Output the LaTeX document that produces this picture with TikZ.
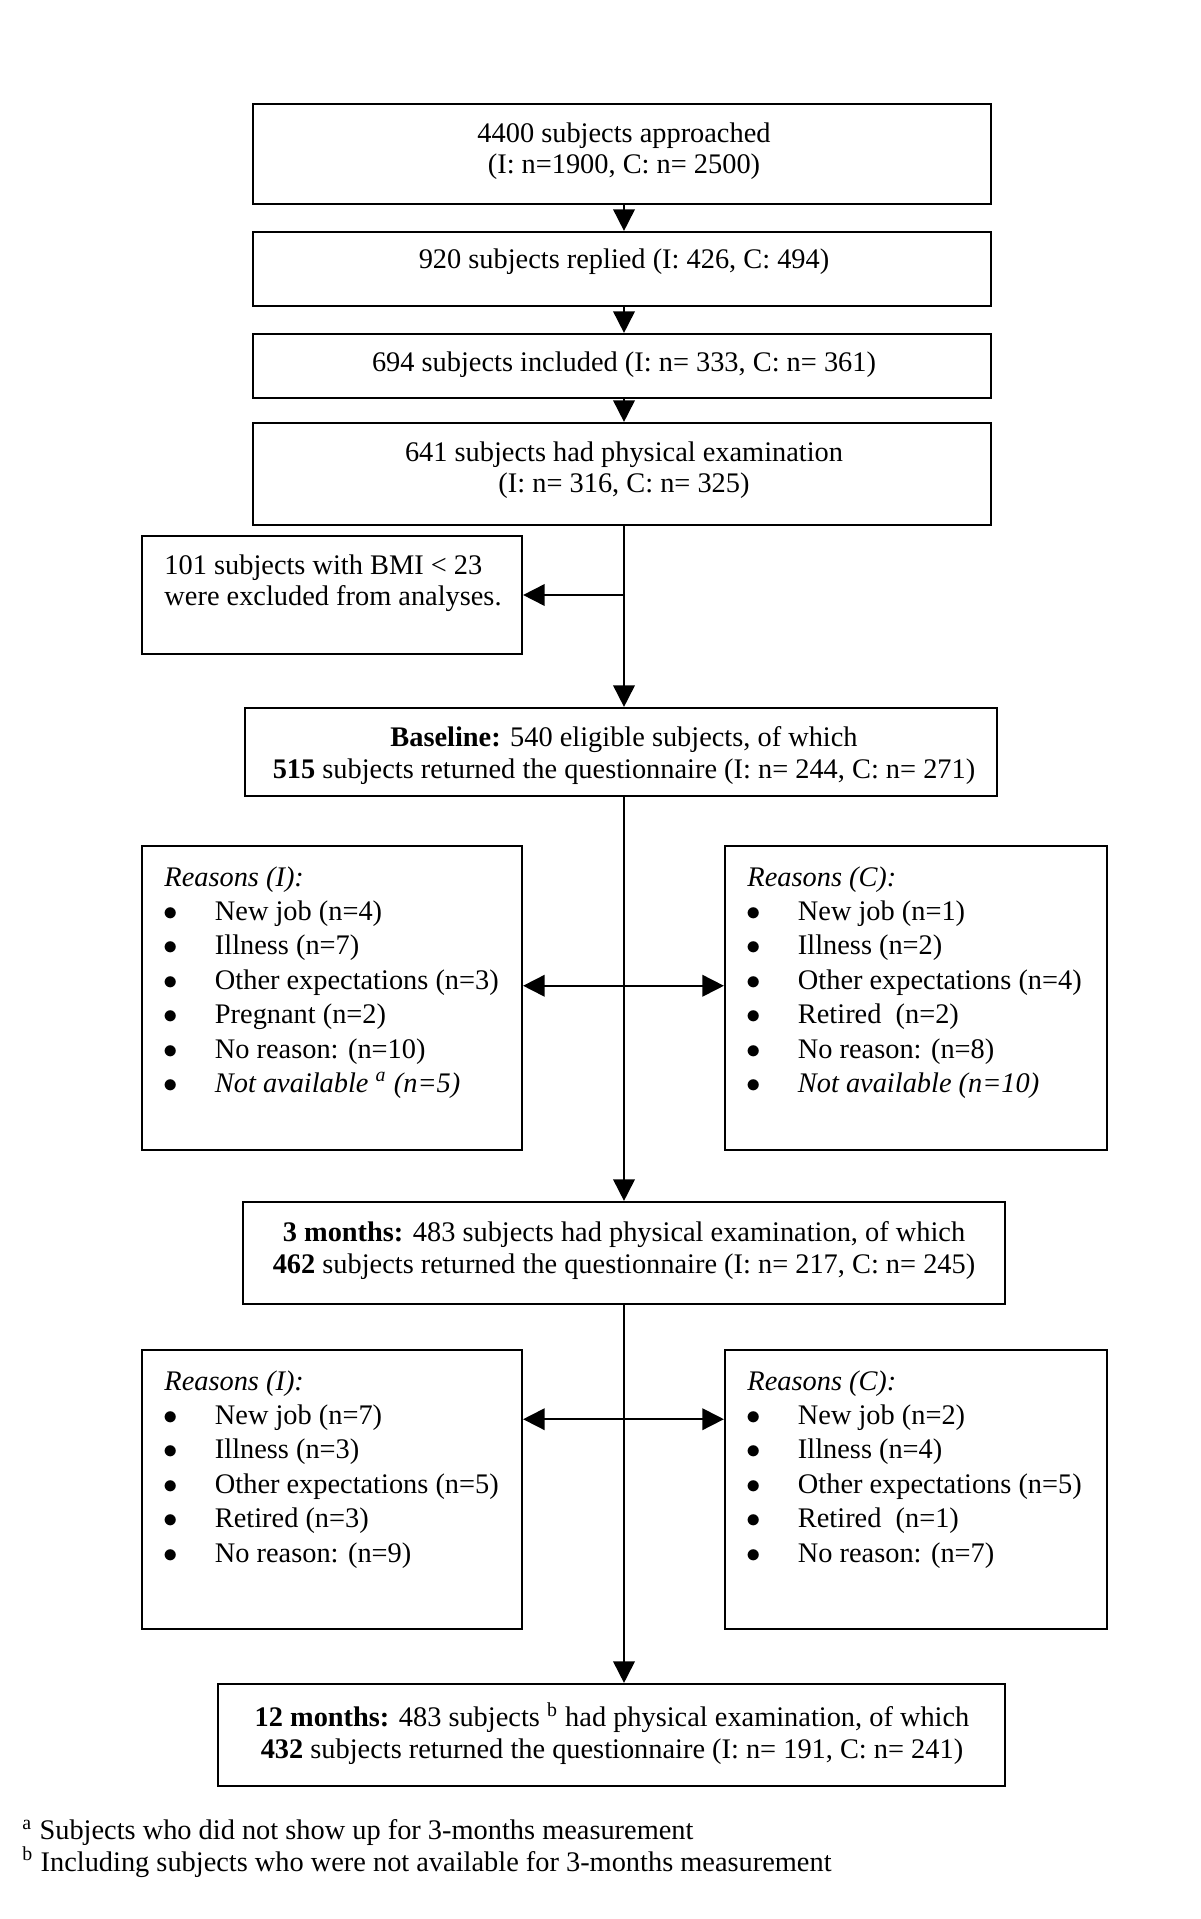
\documentclass[tikz,border=0pt]{standalone}
\usepackage{fontspec}
\setmainfont{Liberation Serif}
\usetikzlibrary{arrows.meta,fit,calc}

\newcommand\itm[1]{\makebox[21pt][l]{\hspace{-0.6pt}{\fontsize{12.6}{12.6}\selectfont$\bullet$}}#1}

\begin{document}
\begin{tikzpicture}[x=0.416pt,y=-0.416pt,
  box/.style={draw,line width=0.9pt,inner sep=0pt},
  ctext/.style={anchor=north,inner sep=0pt,align=center,font=\fontsize{11.8}{13.2}\selectfont},
  ltext/.style={anchor=north west,inner sep=0pt,align=left,font=\fontsize{11.8}{13.2}\selectfont},
  rtext/.style={anchor=north west,inner sep=0pt,align=left,font=\fontsize{11.8}{14.3}\selectfont},
  arr/.style={line width=0.75pt,-{Triangle[length=9pt,width=9pt]}},
  arrs/.style={line width=0.75pt,{Triangle[length=9pt,width=9pt]}-{Triangle[length=9pt,width=9pt]}}]
\useasboundingbox (0,0) rectangle (1200,1919);
\coordinate (spine) at (624,0);

\node[box,fit={(253,104) (991,204)}] (appr) {};
\node[box,fit={(253,232) (991,306)}] (repl) {};
\node[box,fit={(253,334) (991,398)}] (incl) {};
\node[box,fit={(253,423) (991,525)}] (phys) {};
\node[box,fit={(142,536) (522,654)}] (excl) {};
\node[box,fit={(245,708) (997,796)}] (base) {};
\node[box,fit={(142,846) (522,1150)}] (reasI) {};
\node[box,fit={(725,846) (1107,1150)}] (reasC) {};
\node[box,fit={(243,1202) (1005,1304)}] (month) {};
\node[box,fit={(142,1350) (522,1629)}] (reasIb) {};
\node[box,fit={(725,1350) (1107,1629)}] (reasCb) {};
\node[box,fit={(218,1684) (1005,1786)}] (year) {};

\node[ctext] (apprt) at (624,122) {4400 subjects approached\\(I: n=1900, C: n= 2500)};
\node[ctext] (replt) at (624,248) {920 subjects replied (I: 426, C: 494)};
\node[ctext] (inclt) at (624,351) {694 subjects included (I: n= 333, C: n= 361)};
\node[ctext] (physt) at (624,441) {641 subjects had physical examination\\(I: n= 316, C: n= 325)};
\node[ltext] (exclt) at (164,554) {101 subjects with BMI < 23\\were excluded from analyses.};
\node[ctext] (baset) at (624,726) {\textbf{Baseline:} 540 eligible subjects, of which\\\textbf{515} subjects returned the questionnaire (I: n= 244, C: n= 271)};
\node[rtext] (reasIt) at (164,866) {\textit{Reasons (I):}\\\itm{New job (n=4)}\\\itm{Illness (n=7)}\\\itm{Other expectations (n=3)}\\\itm{Pregnant (n=2)}\\\itm{No reason: (n=10)}\\\itm{\textit{Not available \textsuperscript{a} (n=5)}}};
\node[rtext] (reasCt) at (747,866) {\textit{Reasons (C):}\\\itm{New job (n=1)}\\\itm{Illness (n=2)}\\\itm{Other expectations (n=4)}\\\itm{Retired\ \ (n=2)}\\\itm{No reason: (n=8)}\\\itm{\textit{Not available (n=10)}}};
\node[ctext] (montht) at (624,1221) {\textbf{3 months:} 483 subjects had physical examination, of which\\\textbf{462} subjects returned the questionnaire (I: n= 217, C: n= 245)};
\node[rtext] (reasIbt) at (164,1370) {\textit{Reasons (I):}\\\itm{New job (n=7)}\\\itm{Illness (n=3)}\\\itm{Other expectations (n=5)}\\\itm{Retired (n=3)}\\\itm{No reason: (n=9)}};
\node[rtext] (reasCbt) at (747,1370) {\textit{Reasons (C):}\\\itm{New job (n=2)}\\\itm{Illness (n=4)}\\\itm{Other expectations (n=5)}\\\itm{Retired\ \ (n=1)}\\\itm{No reason: (n=7)}};
\node[ctext] (yeart) at (612,1702) {\textbf{12 months:} 483 subjects \textsuperscript{b} had physical examination, of which\\\textbf{432} subjects returned the questionnaire (I: n= 191, C: n= 241)};
\node[ltext] (notes) at (22,1819) {\textsuperscript{a} Subjects who did not show up for 3-months measurement\\\textsuperscript{b} Including subjects who were not available for 3-months measurement};

\draw[arr] (spine |- appr.south) -- (spine |- repl.north);
\draw[arr] (spine |- repl.south) -- (spine |- incl.north);
\draw[arr] (spine |- incl.south) -- (spine |- phys.north);
\draw[arr] (spine |- phys.south) -- (spine |- base.north);
\draw[arr] (spine |- excl.east) -- (excl.east);
\draw[arr] (spine |- base.south) -- (spine |- month.north);
\draw[arrs] ($(reasI.north east)!0.46!(reasI.south east)$) -- ($(reasC.north west)!0.46!(reasC.south west)$);
\draw[arr] (spine |- month.south) -- (spine |- year.north);
\draw[arrs] ($(reasIb.north east)!0.25!(reasIb.south east)$) -- ($(reasCb.north west)!0.25!(reasCb.south west)$);
\end{tikzpicture}
\end{document}
